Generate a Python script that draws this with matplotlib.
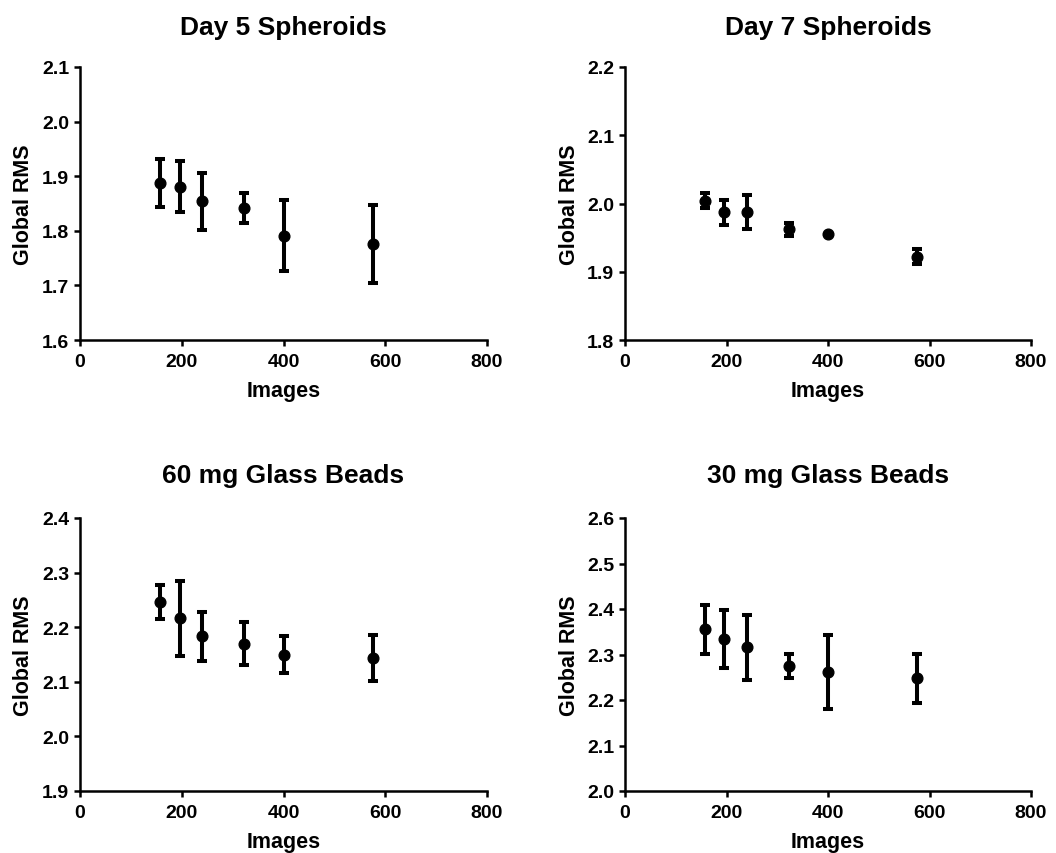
import matplotlib
matplotlib.use("Agg")
import matplotlib.pyplot as plt
import numpy as np

plt.rcParams['font.family'] = ['Liberation Sans', 'DejaVu Sans']
plt.rcParams['font.weight'] = 'bold'

images = [157, 196, 240, 323, 400, 575]

d5_mean = [1.888, 1.881, 1.854, 1.842, 1.791, 1.776]
d5_err = [0.044, 0.046, 0.052, 0.028, 0.065, 0.071]
d7_mean = [2.004, 1.987, 1.987, 1.962, 1.956, 1.922]
d7_err = [0.011, 0.018, 0.025, 0.010, 0.0, 0.011]
g60_mean = [2.246, 2.216, 2.183, 2.170, 2.150, 2.144]
g60_err = [0.031, 0.069, 0.044, 0.039, 0.034, 0.042]
g30_mean = [2.355, 2.334, 2.316, 2.275, 2.262, 2.248]
g30_err = [0.053, 0.063, 0.071, 0.026, 0.081, 0.054]

titles = ["Day 5 Spheroids", "Day 7 Spheroids", "60 mg Glass Beads", "30 mg Glass Beads"]
means = [d5_mean, d7_mean, g60_mean, g30_mean]
errs = [d5_err, d7_err, g60_err, g30_err]
ylims = [(1.6, 2.1), (1.8, 2.2), (1.9, 2.4), (2.0, 2.6)]
xticks = [0, 200, 400, 600, 800]

W, H = 1056, 854
fig = plt.figure(figsize=(W / 100, H / 100), dpi=100)

# axes rectangles in pixels: left, top, right, bottom
rects = [(80, 68, 487, 341), (625, 68, 1031, 341),
         (80, 519, 487, 792), (625, 519, 1031, 792)]
title_pads = [24, 24, 26, 26]

for i in range(4):
    l, t, r, b = rects[i]
    ax = fig.add_axes([l / W, 1 - b / H, (r - l) / W, (b - t) / H])
    ax.errorbar(images, means[i], yerr=errs[i], fmt='o', color='black',
                markersize=7.7, elinewidth=2.9, capsize=3.8, capthick=2.9,
                clip_on=False, zorder=3)
    lo, hi = ylims[i]
    ax.set_xlim(0, 800)
    ax.set_ylim(lo, hi)
    ax.set_xticks(xticks)
    yt = np.round(np.arange(lo, hi + 1e-9, 0.1), 1)
    ax.set_yticks(yt)
    ax.set_yticklabels([f"{v:.1f}" for v in yt])
    for s in ['top', 'right']:
        ax.spines[s].set_visible(False)
    for s in ['left', 'bottom']:
        ax.spines[s].set_linewidth(1.8)
    ax.tick_params(axis='both', direction='out', length=4.2, width=1.8,
                   labelsize=14, colors='black')
    ax.tick_params(axis='x', pad=5.5)
    ax.tick_params(axis='y', pad=3.5)
    for lab in ax.get_xticklabels() + ax.get_yticklabels():
        lab.set_fontweight('bold')
    ax.set_title(titles[i], fontsize=19, fontweight='bold', pad=title_pads[i])
    ax.set_xlabel("Images", fontsize=15.5, fontweight='bold')
    ax.set_ylabel("Global RMS", fontsize=15.5, fontweight='bold')
    ax.xaxis.set_label_coords(0.5, -0.145)
    ax.yaxis.set_label_coords(-0.112, 0.5)

fig.savefig("out.png", dpi=100)
